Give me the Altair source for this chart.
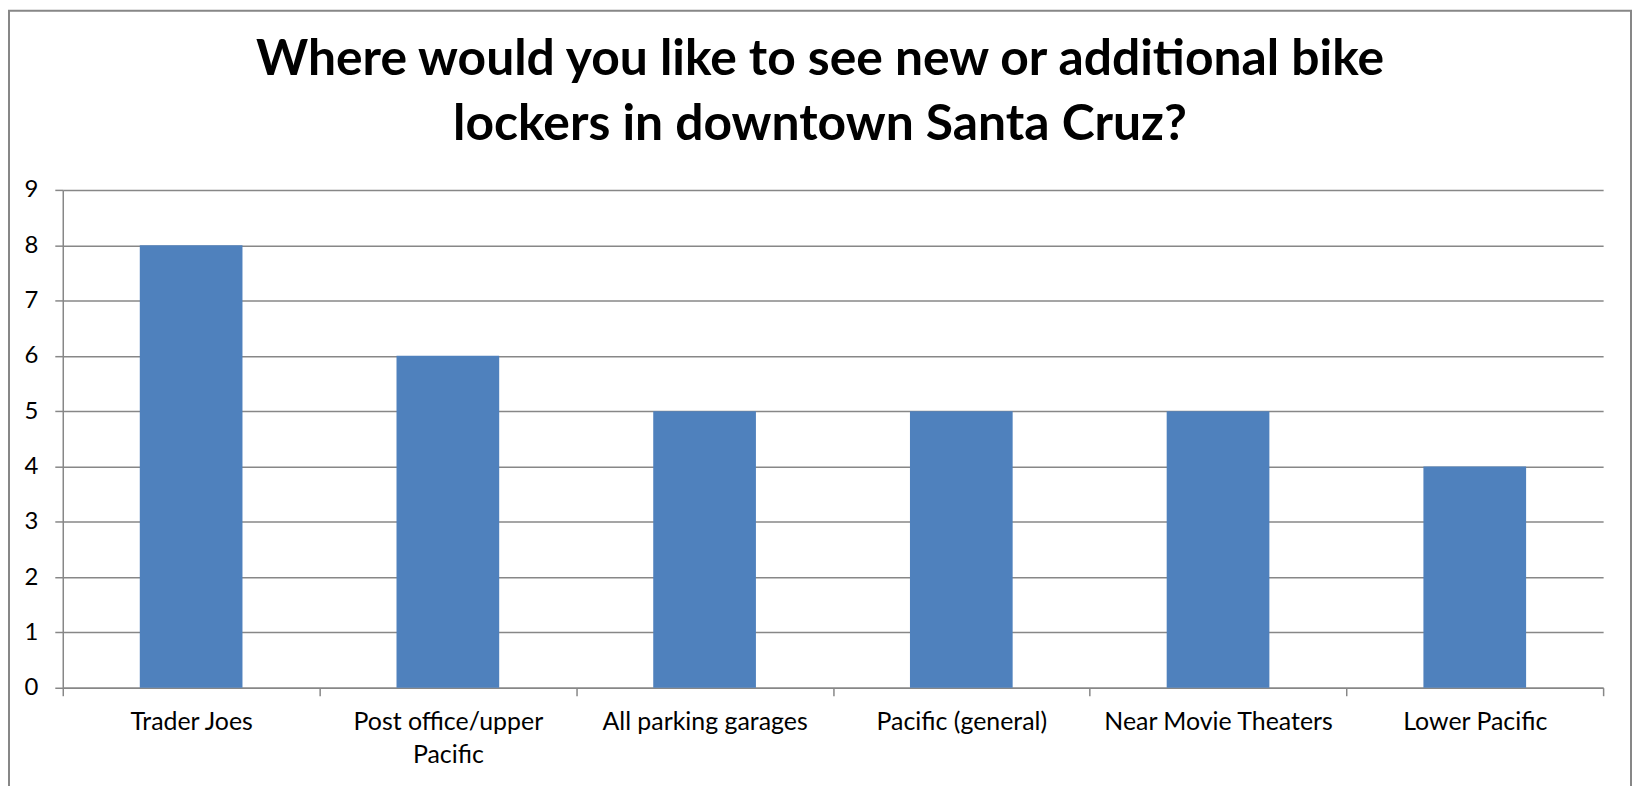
import altair as alt
import pandas as pd

# ---- data ----
categories = [
    "Trader Joes",
    "Post office/upper Pacific",
    "All parking garages",
    "Pacific (general)",
    "Near Movie Theaters",
    "Lower Pacific",
]
counts = [8, 6, 5, 5, 5, 4]
y_ticks = [0, 1, 2, 3, 4, 5, 6, 7, 8, 9]
title_lines = [
    "Where would you like to see new or additional bike",
    "lockers in downtown Santa Cruz?",
]

df = pd.DataFrame({"location": categories, "count": counts})

W, H = 1547, 500
GRAY = "#878787"
BLUE = "#4F81BD"
FONT = "Lato"

wrap_expr = (
    "datum.label == 'Post office/upper Pacific' ? ['Post office/upper', 'Pacific'] : datum.label"
)

bars = alt.Chart(df).mark_bar(color=BLUE, width=alt.RelativeBandSize(0.4)).encode(
    x=alt.X(
        "location:N",
        sort=categories,
        scale=alt.Scale(paddingInner=0, paddingOuter=0),
        axis=alt.Axis(
            title=None,
            labelAngle=0,
            labelExpr=wrap_expr,
            labelFont=FONT,
            labelFontSize=25,
            labelColor="#000000",
            labelPadding=14,
            labelLineHeight=33,
            labelLimit=400,
            tickBand="extent",
            tickSize=8,
            tickColor=GRAY,
            tickWidth=1.5,
            domainColor=GRAY,
            domainWidth=1.5,
            grid=False,
        ),
    ),
    y=alt.Y(
        "count:Q",
        scale=alt.Scale(domain=[0, 9], nice=False),
        axis=alt.Axis(
            title=None,
            values=y_ticks,
            format="d",
            labelFont=FONT,
            labelFontSize=24,
            labelColor="#000000",
            labelPadding=17,
            tickSize=8,
            tickColor=GRAY,
            tickWidth=1.5,
            domainColor=GRAY,
            domainWidth=1.5,
            grid=True,
            gridColor=GRAY,
            gridWidth=1.5,
        ),
    ),
)

frame = alt.Chart(alt.Data(values=[{"f": 1}])).mark_rect(
    filled=False, stroke=GRAY, strokeWidth=2
).encode(
    x=alt.value(-54),
    x2=alt.value(W + 28),
    y=alt.value(-180),
    y2=alt.value(H + 100),
)

chart = (
    alt.layer(bars, frame)
    .properties(
        width=W,
        height=H,
        padding=0,
        background="white",
        title=alt.TitleParams(
            text=title_lines,
            font=FONT,
            fontSize=50,
            fontWeight="bold",
            color="#000000",
            lineHeight=65,
            anchor="middle",
            frame="bounds",
            baseline="alphabetic",
            offset=-181,
        ),
    )
    .configure_view(stroke=None)
)

chart.save("out.html", embed_options={"renderer": "svg", "actions": False})
